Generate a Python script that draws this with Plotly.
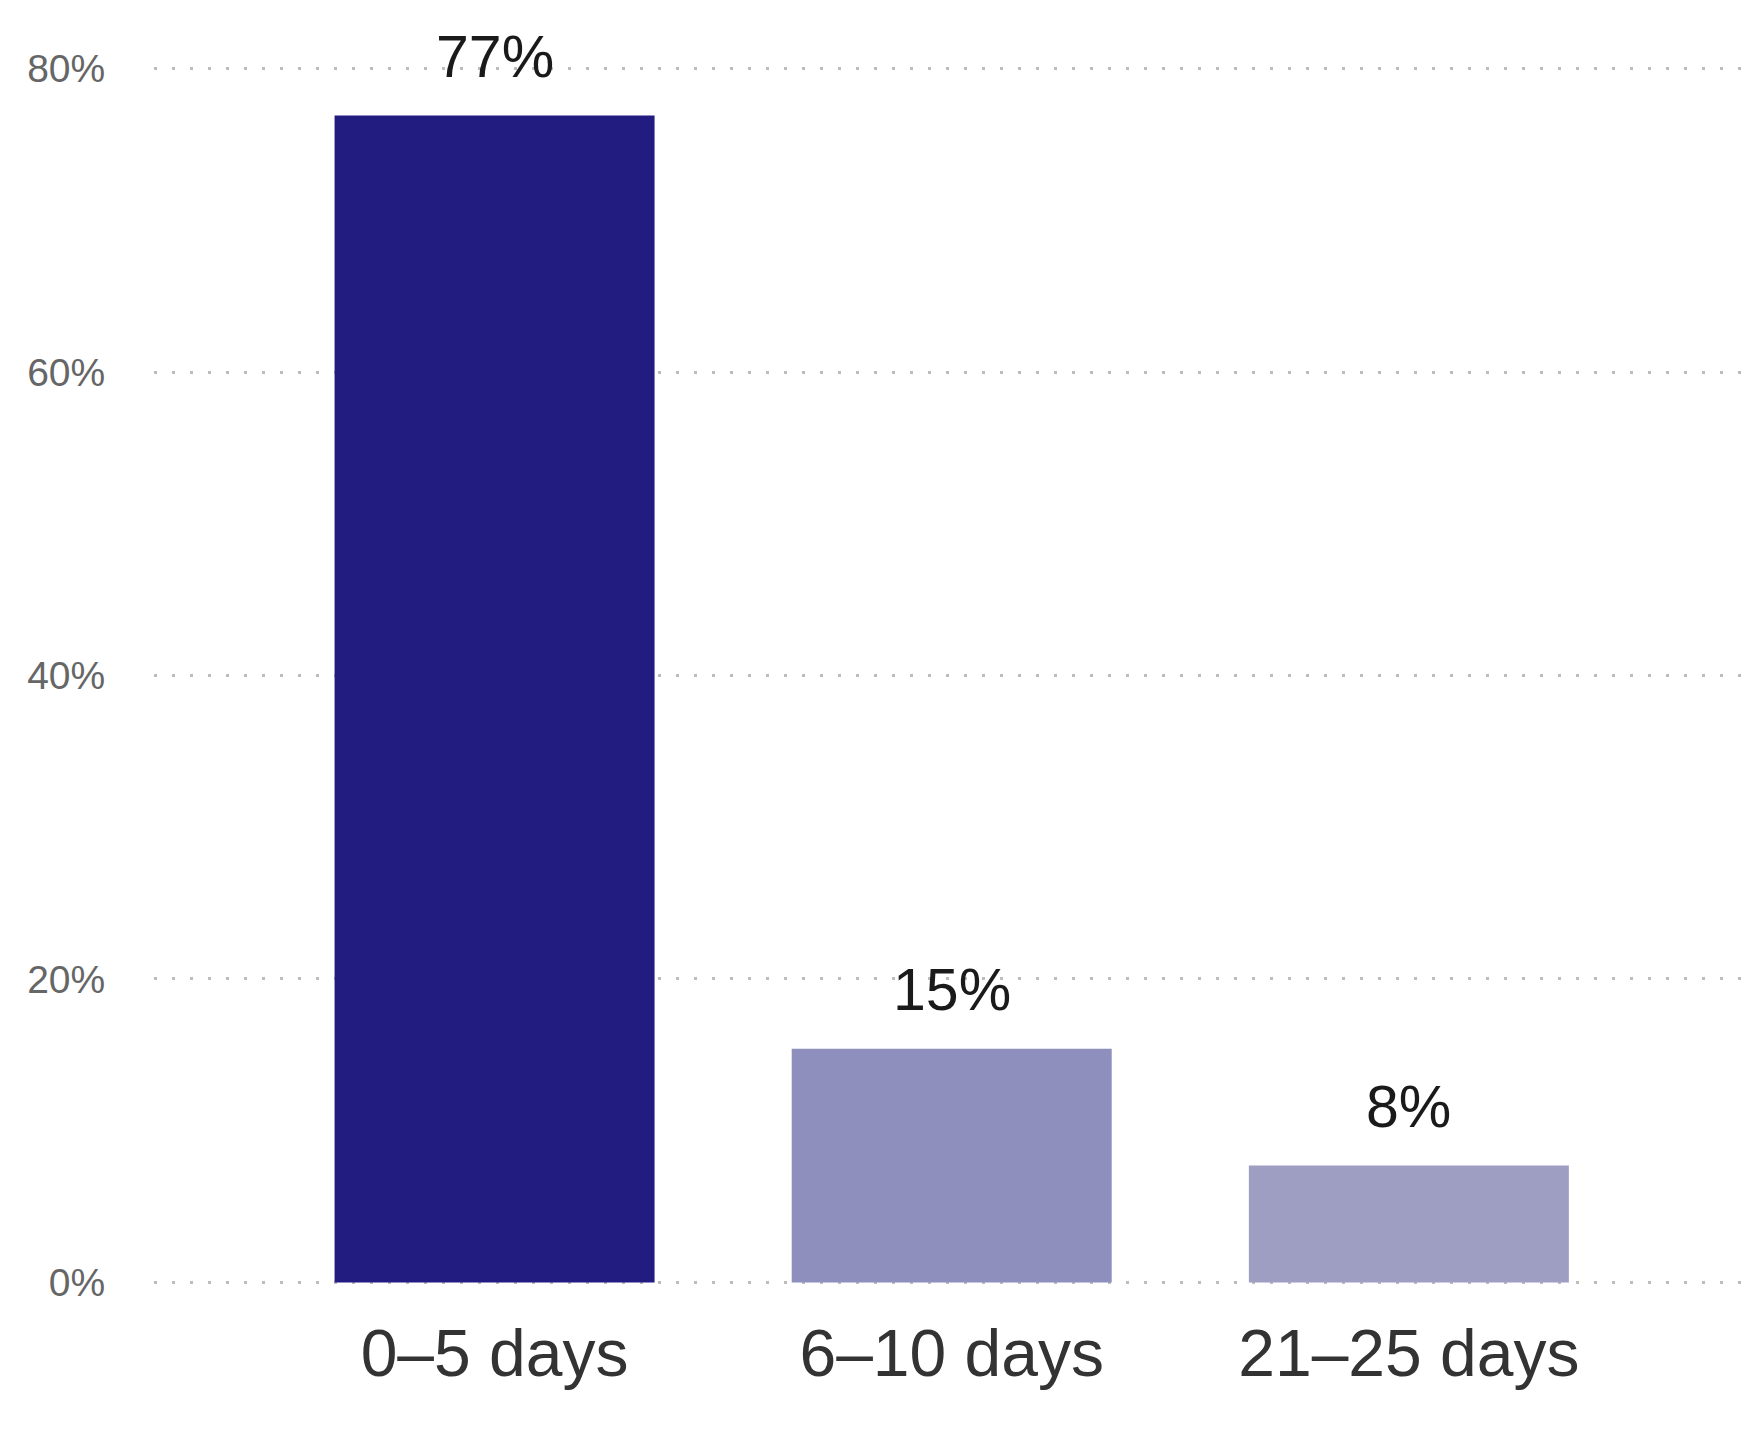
import plotly.graph_objects as go

categories = ["0–5 days", "6–10 days", "21–25 days"]
shares = [76.9, 15.4, 7.7]
share_labels = ["77%", "15%", "8%"]
bar_colors = ["#221b80", "#8e8fbc", "#9e9ec3"]

font_family = "Liberation Sans, Arial, sans-serif"

fig = go.Figure()
fig.add_trace(go.Bar(x=categories, y=shares, marker=dict(color=bar_colors, line=dict(width=0)),
                     width=0.7, hoverinfo="skip", showlegend=False))

# value labels above each bar
for cat, val, lab in zip(categories, shares, share_labels):
    fig.add_annotation(x=cat, y=val, text=lab, showarrow=False, yanchor="bottom",
                       yshift=24, font=dict(size=59, color="#1a1a1a", family=font_family))

fig.update_layout(
    width=1762, height=1432,
    margin=dict(l=146, r=0, t=56, b=153),
    paper_bgcolor="white", plot_bgcolor="white",
    font=dict(family=font_family),
    bargap=0.3,
)
fig.update_xaxes(range=[-0.745, 2.79], showgrid=False, showline=False, zeroline=False,
                 ticks="outside", ticklen=9, tickcolor="rgba(0,0,0,0)",
                 tickfont=dict(size=66, color="#333333", family=font_family))
# pad the range so the 0% and 80% grid lines are not dropped at the edges
fig.update_yaxes(range=[-0.3, 80.3], tickvals=[0, 20, 40, 60, 80],
                 ticktext=["0%", "20%", "40%", "60%", "80%"],
                 showgrid=True, gridcolor="#bdbdbd", gridwidth=3, griddash="3px,15px",
                 zeroline=False, showline=False,
                 ticks="outside", ticklen=40, tickcolor="rgba(0,0,0,0)",
                 tickfont=dict(size=39, color="#666666", family=font_family))

fig.write_html("out.html")
